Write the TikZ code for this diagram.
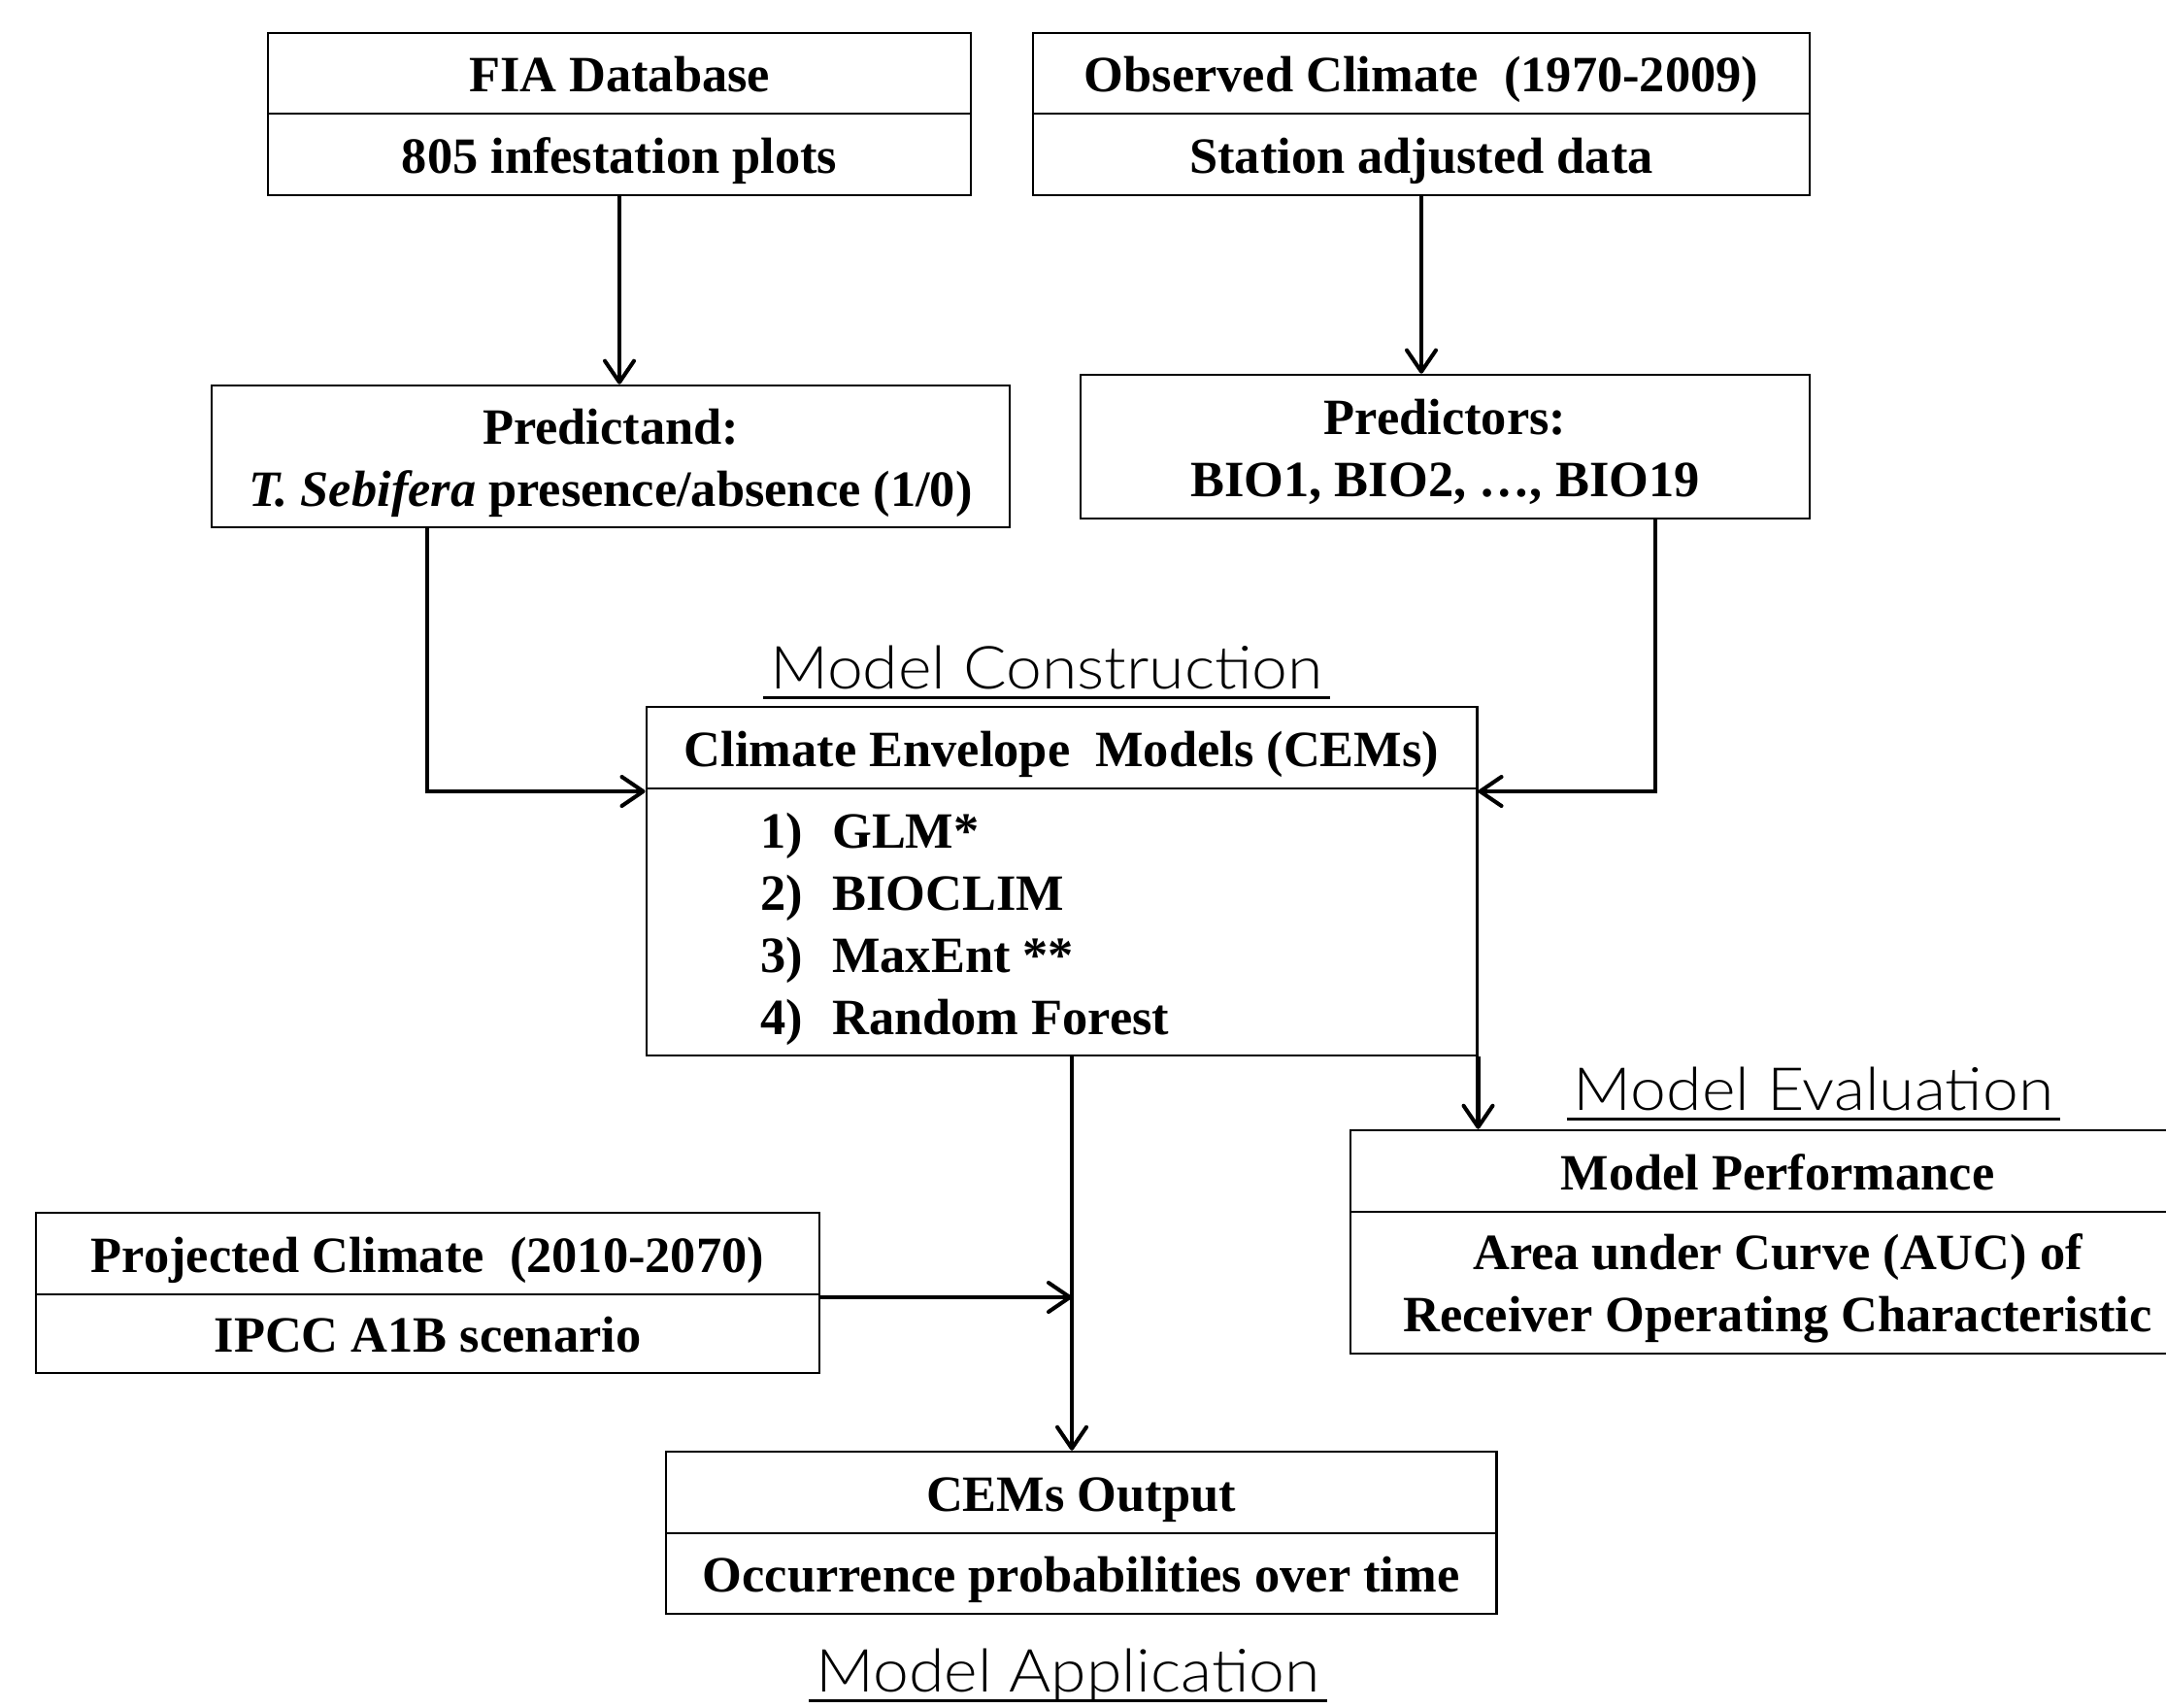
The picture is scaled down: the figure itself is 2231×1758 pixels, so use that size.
\documentclass[tikz,border=0pt]{standalone}
\usepackage{fontspec}
\setmainfont{Liberation Serif}
\IfFontExistsTF{Lato Light}{\newfontfamily\labfont{Lato Light}[FakeStretch=1.08]}{\newfontfamily\labfont{Liberation Sans}}
\newcommand\myul[1]{\leavevmode\setbox0\hbox{#1}\rlap{\hspace*{-2pt}\rule[-3.2pt]{\dimexpr\wd0+4pt\relax}{0.9pt}}\box0}
\newcommand\topst{\rule{0pt}{14pt}}
\newcommand\botst{\rule[-3pt]{0pt}{3pt}}
\usetikzlibrary{arrows.meta}
\tikzset{
  bx/.style={draw, line width=0.7pt, inner sep=0pt, align=center,
    font=\fontsize{14.9pt}{18.2pt}\selectfont\bfseries},
  bxone/.style={bx, text height=14pt, text depth=3pt},
  arr/.style={line width=1.15pt, -{Straight Barb[length=2.2mm,width=3mm,round]}},
  lab/.style={inner sep=0pt, anchor=base, font=\labfont\fontsize{17.4pt}{20pt}\selectfont}
}
\begin{document}
\begin{tikzpicture}[x=0.01cm,y=-0.01cm]
\useasboundingbox (0,0) rectangle (2231,1758);
% top boxes
\node[bxone, minimum width=7.24cm, minimum height=0.83cm] (fiaT) at (638,75.5) {FIA Database};
\node[bxone, minimum width=7.24cm, minimum height=0.84cm] (fiaB) at (638,159) {805 infestation plots};
\node[bxone, minimum width=8.00cm, minimum height=0.83cm] (obsT) at (1464,75.5) {Observed Climate\ \ (1970-2009)};
\node[bxone, minimum width=8.00cm, minimum height=0.84cm] (obsB) at (1464,159) {Station adjusted data};
% second row
\node[bx, minimum width=8.22cm, minimum height=1.46cm] (pred) at (629,470) {\topst Predictand:\\\textit{T. Sebifera} presence/absence (1/0)\botst};
\node[bx, minimum width=7.51cm, minimum height=1.48cm] (prs) at (1488.5,460) {\topst Predictors:\\BIO1, BIO2, \dots, BIO19\botst};
% CEM box
\node[lab] (lcon) at (1078,709) {\myul{Model Construction}};
\node[bxone, minimum width=8.55cm, minimum height=0.84cm] (cemT) at (1093.5,770) {Climate Envelope\ \ Models (CEMs)};
\node[bx, minimum width=8.55cm, minimum height=2.75cm] (cemB) at (1093.5,949.5) {};
\node[bx, draw=none, anchor=north west, align=left] (cemL) at (782,822.6)
  {\topst\makebox[0.74cm][l]{1)}GLM*\\\makebox[0.74cm][l]{2)}BIOCLIM\\\makebox[0.74cm][l]{3)}MaxEnt **\\\makebox[0.74cm][l]{4)}Random Forest};
% evaluation
\node[lab] (leva) at (1868,1143) {\myul{Model Evaluation}};
\node[bxone, minimum width=8.80cm, minimum height=0.84cm] (perfT) at (1831,1206) {Model Performance};
\node[bx, minimum width=8.80cm, minimum height=1.46cm] (perfB) at (1831,1321) {\topst Area under Curve (AUC) of\\Receiver Operating Characteristic\botst};
% projected
\node[bxone, minimum width=8.07cm, minimum height=0.84cm] (proT) at (440.5,1291) {Projected Climate\ \ (2010-2070)};
\node[bxone, minimum width=8.07cm, minimum height=0.81cm] (proB) at (440.5,1373.5) {IPCC A1B scenario};
% output
\node[bxone, minimum width=8.55cm, minimum height=0.84cm] (outT) at (1113.5,1537) {CEMs Output};
\node[bxone, minimum width=8.55cm, minimum height=0.83cm] (outB) at (1113.5,1620.5) {Occurrence probabilities over time};
\node[lab] (lapp) at (1100,1742) {\myul{Model Application}};
% helper coordinates
\coordinate (pdl) at (440,0);
\coordinate (prr) at (1705,0);
\coordinate (mid) at (1104,0);
\coordinate (cy) at (0,815);
\coordinate (py) at (0,1336);
% connectors
\draw[arr] (fiaB.south) -- (fiaB.south |- pred.north);
\draw[arr] (obsB.south) -- (obsB.south |- prs.north);
\draw[arr] (pred.south -| pdl) |- (cemB.west |- cy);
\draw[arr] (prs.south -| prr) |- (cemB.east |- cy);
\draw[arr] (cemB.south -| mid) -- (outT.north -| mid);
\draw[arr] (proT.east |- py) -- (mid |- py);
\draw[arr] (cemB.south east) -- (cemB.south east |- perfT.north);
\end{tikzpicture}
\end{document}
